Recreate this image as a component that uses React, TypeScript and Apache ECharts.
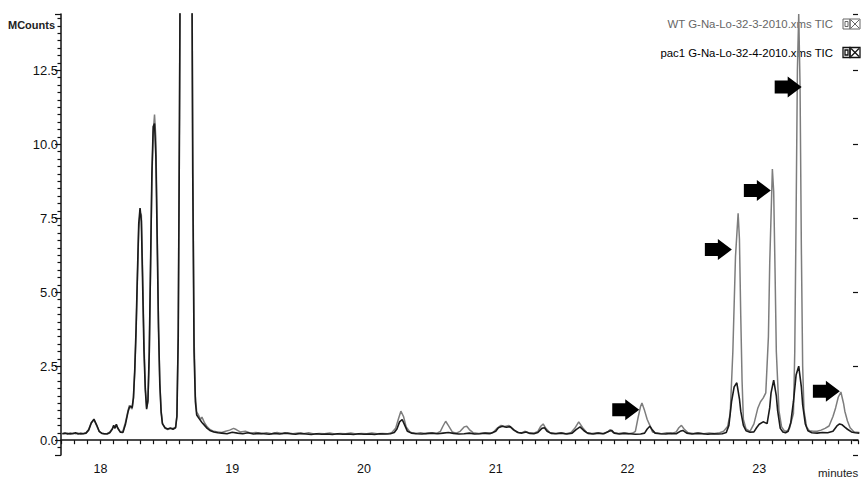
import React, { useEffect, useRef } from "react";
import * as echarts from "echarts";

// Retention time (minutes) vs TIC intensity (MCounts)
const wtTrace: [number, number][] = [
  [17.71,0.23],[17.73,0.22],[17.75,0.24],[17.77,0.21],[17.79,0.24],[17.81,0.22],[17.83,0.24],[17.85,0.21],[17.87,0.23],[17.89,0.25],
  [17.91,0.36],[17.93,0.60],[17.95,0.69],[17.97,0.50],[17.99,0.29],[18.01,0.24],[18.03,0.21],[18.05,0.23],[18.07,0.27],[18.09,0.40],
  [18.10,0.48],[18.11,0.42],[18.12,0.52],[18.13,0.40],[18.15,0.28],[18.17,0.30],[18.19,0.62],[18.21,1.02],[18.22,1.18],[18.23,1.10],
  [18.24,1.05],[18.25,1.4],[18.26,2.3],[18.27,3.6],[18.28,5.4],[18.29,7.1],[18.30,7.70],[18.31,7.6],[18.32,5.6],[18.33,3.3],
  [18.34,1.8],[18.35,1.1],[18.36,1.3],[18.37,2.8],[18.38,5.8],[18.39,8.8],[18.40,10.4],[18.41,11.0],[18.42,10.2],[18.43,7.2],
  [18.44,4.0],[18.45,2.0],[18.46,1.0],[18.47,0.58],[18.49,0.40],[18.51,0.36],[18.53,0.39],[18.55,0.40],[18.57,0.44],[18.58,0.85],
  [18.59,3.8],[18.60,12],[18.61,22],[18.63,35],[18.67,35],[18.69,21],[18.70,10],[18.71,3.5],[18.72,1.5],[18.73,0.95],
  [18.74,0.88],[18.76,0.70],[18.77,0.78],[18.79,0.58],[18.81,0.45],[18.83,0.36],[18.86,0.30],[18.89,0.28],[18.92,0.26],[18.95,0.30],
  [18.98,0.34],[19.01,0.40],[19.03,0.36],[19.06,0.28],[19.10,0.30],[19.14,0.24],[19.18,0.26],[19.22,0.23],[19.26,0.25],[19.30,0.22],
  [19.34,0.26],[19.38,0.23],[19.42,0.25],[19.46,0.22],[19.50,0.24],[19.54,0.22],[19.58,0.25],[19.62,0.21],[19.66,0.23],[19.70,0.22],
  [19.74,0.24],[19.78,0.21],[19.82,0.23],[19.86,0.22],[19.90,0.24],[19.94,0.21],[19.98,0.23],[20.02,0.22],[20.06,0.24],[20.10,0.22],
  [20.14,0.23],[20.18,0.22],[20.21,0.25],[20.24,0.40],[20.26,0.70],[20.28,0.98],[20.30,0.80],[20.32,0.45],[20.35,0.27],[20.39,0.23],
  [20.43,0.25],[20.47,0.22],[20.51,0.24],[20.55,0.23],[20.58,0.30],[20.60,0.48],[20.62,0.64],[20.64,0.50],[20.67,0.28],[20.70,0.24],
  [20.73,0.30],[20.76,0.45],[20.78,0.47],[20.80,0.36],[20.83,0.25],[20.87,0.23],[20.91,0.24],[20.95,0.22],[20.98,0.26],[21.01,0.40],
  [21.04,0.50],[21.07,0.46],[21.10,0.50],[21.13,0.36],[21.16,0.27],[21.19,0.24],[21.22,0.30],[21.25,0.25],[21.29,0.24],[21.32,0.30],
  [21.34,0.46],[21.36,0.55],[21.38,0.40],[21.41,0.26],[21.45,0.23],[21.49,0.25],[21.53,0.22],[21.57,0.25],[21.60,0.40],[21.63,0.62],
  [21.66,0.42],[21.69,0.26],[21.73,0.23],[21.77,0.25],[21.81,0.22],[21.85,0.28],[21.87,0.36],[21.89,0.26],[21.93,0.23],[21.97,0.25],
  [22.01,0.22],[22.04,0.24],[22.06,0.30],[22.08,0.75],[22.10,1.15],[22.11,1.26],[22.13,1.0],[22.15,0.70],[22.17,0.50],[22.19,0.28],
  [22.22,0.24],[22.26,0.22],[22.30,0.25],[22.34,0.23],[22.37,0.28],[22.39,0.42],[22.41,0.50],[22.43,0.38],[22.46,0.25],[22.50,0.23],
  [22.54,0.25],[22.58,0.22],[22.62,0.24],[22.66,0.23],[22.70,0.25],[22.73,0.30],[22.76,0.46],[22.78,0.9],[22.80,3.0],[22.82,6.2],
  [22.84,7.67],[22.85,6.8],[22.86,4.2],[22.87,2.0],[22.88,0.70],[22.90,0.38],[22.93,0.30],[22.96,0.55],[22.99,1.09],[23.01,1.30],
  [23.03,1.42],[23.05,1.6],[23.07,3.5],[23.08,6.0],[23.10,9.16],[23.11,8.4],[23.12,5.8],[23.13,3.0],[23.15,1.0],[23.17,0.45],
  [23.19,0.32],[23.21,0.30],[23.23,0.40],[23.26,0.9],[23.27,3.0],[23.28,7.5],[23.29,12.5],[23.30,14.4],[23.31,12.0],[23.32,6.5],
  [23.33,2.5],[23.34,1.0],[23.36,0.45],[23.38,0.32],[23.41,0.30],[23.44,0.30],[23.47,0.34],[23.50,0.40],[23.53,0.48],[23.56,0.80],
  [23.58,1.09],[23.60,1.45],[23.62,1.63],[23.64,1.25],[23.65,0.98],[23.67,0.65],[23.69,0.42],[23.72,0.28],[23.76,0.26],
];

const pac1Trace: [number, number][] = [
  [17.71,0.22],[17.73,0.24],[17.75,0.21],[17.77,0.23],[17.79,0.22],[17.81,0.25],[17.83,0.21],[17.85,0.23],[17.87,0.22],[17.89,0.24],
  [17.91,0.34],[17.93,0.58],[17.95,0.71],[17.97,0.52],[17.99,0.30],[18.01,0.23],[18.03,0.22],[18.05,0.21],[18.07,0.25],[18.09,0.38],
  [18.10,0.50],[18.11,0.40],[18.12,0.54],[18.13,0.42],[18.15,0.27],[18.17,0.26],[18.19,0.55],[18.21,0.98],[18.22,1.12],[18.23,1.15],
  [18.24,1.10],[18.25,1.45],[18.26,2.4],[18.27,3.8],[18.28,5.6],[18.29,7.3],[18.30,7.84],[18.31,7.4],[18.32,5.2],[18.33,3.0],
  [18.34,1.7],[18.35,1.05],[18.36,1.35],[18.37,3.0],[18.38,6.0],[18.39,9.0],[18.40,10.6],[18.41,10.7],[18.42,9.6],[18.43,6.8],
  [18.44,3.8],[18.45,1.9],[18.46,0.95],[18.47,0.55],[18.49,0.42],[18.51,0.38],[18.53,0.41],[18.55,0.37],[18.57,0.42],[18.58,0.8],
  [18.59,3.5],[18.60,11],[18.61,22],[18.63,35],[18.67,35],[18.69,20],[18.70,9],[18.71,3.0],[18.72,1.3],[18.73,0.85],
  [18.75,0.72],[18.77,0.60],[18.79,0.50],[18.81,0.40],[18.83,0.33],[18.86,0.28],[18.89,0.25],[18.92,0.24],[18.96,0.22],[19.00,0.27],
  [19.04,0.24],[19.08,0.22],[19.12,0.25],[19.16,0.21],[19.20,0.23],[19.24,0.22],[19.28,0.20],[19.32,0.23],[19.36,0.21],[19.40,0.24],
  [19.44,0.22],[19.48,0.20],[19.52,0.23],[19.56,0.21],[19.60,0.19],[19.64,0.22],[19.68,0.20],[19.72,0.21],[19.76,0.19],[19.80,0.22],
  [19.84,0.20],[19.88,0.21],[19.92,0.19],[19.96,0.22],[20.00,0.20],[20.04,0.21],[20.08,0.19],[20.12,0.22],[20.16,0.21],[20.20,0.22],
  [20.23,0.26],[20.25,0.38],[20.27,0.62],[20.29,0.70],[20.31,0.50],[20.33,0.30],[20.36,0.24],[20.40,0.22],[20.44,0.21],[20.48,0.23],
  [20.52,0.24],[20.56,0.22],[20.60,0.24],[20.64,0.26],[20.68,0.23],[20.72,0.21],[20.76,0.22],[20.80,0.24],[20.84,0.21],[20.88,0.22],
  [20.92,0.24],[20.96,0.23],[21.00,0.30],[21.02,0.42],[21.05,0.47],[21.08,0.44],[21.11,0.46],[21.14,0.34],[21.17,0.26],[21.20,0.24],
  [21.23,0.28],[21.26,0.23],[21.29,0.22],[21.32,0.26],[21.35,0.40],[21.37,0.42],[21.39,0.30],[21.42,0.23],[21.46,0.22],[21.50,0.24],
  [21.54,0.21],[21.58,0.24],[21.61,0.36],[21.64,0.45],[21.67,0.32],[21.70,0.23],[21.74,0.21],[21.78,0.24],[21.82,0.22],[21.86,0.30],
  [21.88,0.33],[21.90,0.24],[21.94,0.21],[21.98,0.23],[22.02,0.22],[22.06,0.20],[22.10,0.21],[22.13,0.24],[22.15,0.38],[22.17,0.47],
  [22.19,0.34],[22.21,0.24],[22.25,0.22],[22.29,0.21],[22.33,0.23],[22.37,0.22],[22.40,0.30],[22.42,0.33],[22.45,0.24],[22.49,0.21],
  [22.53,0.23],[22.57,0.22],[22.61,0.20],[22.65,0.22],[22.69,0.21],[22.72,0.22],[22.75,0.26],[22.77,0.50],[22.79,1.30],[22.81,1.80],
  [22.83,1.94],[22.85,1.40],[22.86,0.98],[22.88,0.50],[22.90,0.32],[22.93,0.27],[22.96,0.28],[22.98,0.42],[23.00,0.54],[23.03,0.62],
  [23.06,0.56],[23.08,1.1],[23.09,1.6],[23.11,2.03],[23.13,1.5],[23.14,1.0],[23.16,0.40],[23.18,0.28],[23.20,0.25],[23.22,0.30],
  [23.24,0.60],[23.26,1.3],[23.28,2.2],[23.30,2.5],[23.32,1.8],[23.33,1.2],[23.35,0.55],[23.37,0.32],[23.40,0.25],[23.44,0.24],
  [23.48,0.26],[23.52,0.25],[23.56,0.30],[23.59,0.48],[23.61,0.55],[23.63,0.52],[23.65,0.44],[23.67,0.37],[23.70,0.28],[23.73,0.25],
  [23.76,0.24],
];

const arrowPoints: [number, number][] = [
  [21.987, 1.03],
  [22.69, 6.44],
  [22.986, 8.44],
  [23.22, 11.93],
  [23.51, 1.65],
];

const legendNames = ["WT G-Na-Lo-32-3-2010.xms TIC", "pac1 G-Na-Lo-32-4-2010.xms TIC"];
const yAxisTitle = "MCounts";
const xAxisTitle = "minutes";

const FONT = "'Liberation Sans', Arial, sans-serif";

export default function App() {
  const ref = useRef<HTMLDivElement>(null);
  useEffect(() => {
    if (!ref.current) return;
    const chart = echarts.init(ref.current, null, { renderer: "svg" });
    const arrowPath = "path://M0 4H13V0L27 10.5L13 21V17H0Z";
    const iconGroup = (y: number, stroke: string, lw: number) => [
      { type: "rect", shape: { x: 843, y, width: 7, height: 10 }, style: { fill: "none", stroke, lineWidth: lw } },
      { type: "rect", shape: { x: 845, y: y + 2.5, width: 3, height: 5 }, style: { fill: "none", stroke, lineWidth: lw } },
      { type: "rect", shape: { x: 850, y, width: 10, height: 10 }, style: { fill: "none", stroke, lineWidth: lw } },
      { type: "line", shape: { x1: 851, y1: y + 1, x2: 859, y2: y + 9 }, style: { stroke, lineWidth: lw } },
      { type: "line", shape: { x1: 859, y1: y + 1, x2: 851, y2: y + 9 }, style: { stroke, lineWidth: lw } },
    ];
    chart.setOption({
      animation: false,
      backgroundColor: "#ffffff",
      grid: { left: 61, top: 14, width: 801, height: 441, containLabel: false },
      xAxis: {
        type: "value",
        min: 17.7,
        max: 23.75,
        minInterval: 1,
        maxInterval: 1,
        axisLine: { show: true, lineStyle: { color: "#111", width: 1.5 } },
        axisTick: { show: true, length: 4, lineStyle: { color: "#111", width: 1.2 } },
        minorTick: { show: true, splitNumber: 10, length: 4, lineStyle: { color: "#111", width: 1.2 } },
        splitLine: { show: false },
        axisLabel: {
          margin: 7,
          fontSize: 12.5,
          color: "#111",
          fontFamily: FONT,
          showMinLabel: true,
          showMaxLabel: true,
          formatter: (v: number) => (Math.abs(v - Math.round(v)) < 1e-6 ? String(Math.round(v)) : ""),
        },
      },
      yAxis: [
        {
          type: "value",
          position: "left",
          min: -0.5,
          max: 14.4,
          minInterval: 2.5,
          maxInterval: 2.5,
          axisLine: { show: true, lineStyle: { color: "#111", width: 1.5 } },
          axisTick: { show: true, length: 6, lineStyle: { color: "#111", width: 1.2 } },
          minorTick: { show: true, splitNumber: 10, length: 3.5, lineStyle: { color: "#111", width: 1.2 } },
          splitLine: { show: false },
          axisLabel: {
            margin: 3,
            fontSize: 13,
            color: "#111",
            fontFamily: FONT,
            formatter: (v: number) => {
              const k = v / 2.5;
              return Math.abs(k - Math.round(k)) < 1e-6 ? v.toFixed(1) : "";
            },
          },
        },
        {
          type: "value",
          position: "right",
          min: -0.5,
          max: 14.4,
          minInterval: 2.5,
          maxInterval: 2.5,
          axisLine: { show: false },
          axisTick: { show: true, inside: true, length: 5, lineStyle: { color: "#111", width: 1.2 } },
          axisLabel: { show: false },
          splitLine: { show: false },
        },
      ],
      series: [
        {
          name: legendNames[0],
          type: "line",
          data: wtTrace,
          showSymbol: false,
          symbol: "none",
          silent: true,
          lineStyle: { color: "#7d7d7d", width: 1.5 },
          z: 2,
        },
        {
          name: legendNames[1],
          type: "line",
          data: pac1Trace,
          showSymbol: false,
          symbol: "none",
          silent: true,
          lineStyle: { color: "#1a1a1a", width: 1.6 },
          z: 3,
          markPoint: {
            symbol: arrowPath,
            symbolSize: [27, 21],
            silent: true,
            label: { show: false },
            itemStyle: { color: "#000" },
            data: arrowPoints.map((c) => ({ coord: c })),
          },
        },
      ],
      graphic: [
        {
          type: "text",
          left: 8,
          top: 19,
          style: { text: yAxisTitle, font: `bold 11px ${FONT}`, fill: "#222" },
        },
        {
          type: "text",
          x: 833,
          y: 24,
          style: { text: legendNames[0], font: `11.4px ${FONT}`, fill: "#666", align: "right", verticalAlign: "middle" },
        },
        {
          type: "text",
          x: 833,
          y: 53,
          style: { text: legendNames[1], font: `11.4px ${FONT}`, fill: "#000", align: "right", verticalAlign: "middle" },
        },
        ...iconGroup(19, "#666", 1),
        ...iconGroup(47.5, "#111", 1.3),
        {
          type: "text",
          left: 818,
          top: 467,
          style: { text: xAxisTitle, font: `11.5px ${FONT}`, fill: "#222" },
        },
      ],
    });
    return () => chart.dispose();
  }, []);
  return (
    <div
      ref={ref}
      style={{ position: "absolute", left: 0, top: 0, width: 861, height: 481, background: "#fff" }}
    />
  );
}
